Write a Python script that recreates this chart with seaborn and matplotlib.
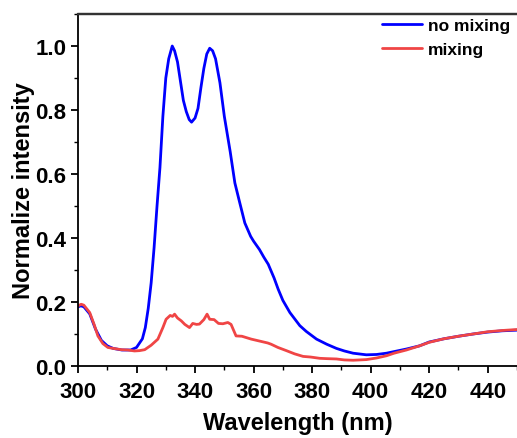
import matplotlib
matplotlib.use("Agg")
import matplotlib.pyplot as plt
import seaborn as sns
import pandas as pd
from matplotlib.ticker import MultipleLocator, FormatStrFormatter

wl_blue = [300, 301, 302, 304, 306, 308, 310, 312, 315, 318, 320, 322, 323, 324, 325, 326, 327, 328,
           329, 330, 331, 332.2, 333, 334, 335, 336, 337, 338, 338.8, 340, 341, 342, 343, 344, 345,
           346, 347, 348.5, 350, 352, 353.6, 355, 357, 359, 360, 362, 363.5, 365, 367, 368.4, 370,
           372.4, 375.8, 378, 381.5, 385, 388.3, 391, 394, 398.5, 402, 405.4, 408, 412.2, 416.7,
           420, 425, 430, 435, 440, 445, 450]
no_mixing = [0.185, 0.188, 0.185, 0.163, 0.115, 0.08, 0.063, 0.055, 0.05, 0.05, 0.058, 0.085, 0.12,
             0.18, 0.26, 0.37, 0.5, 0.62, 0.78, 0.9, 0.96, 1.0, 0.985, 0.95, 0.89, 0.83, 0.795, 0.77,
             0.762, 0.775, 0.805, 0.87, 0.93, 0.975, 0.993, 0.985, 0.96, 0.885, 0.78, 0.67, 0.572,
             0.52, 0.447, 0.405, 0.39, 0.364, 0.34, 0.318, 0.275, 0.24, 0.205, 0.167, 0.126, 0.108,
             0.084, 0.068, 0.055, 0.047, 0.04, 0.035, 0.036, 0.04, 0.045, 0.053, 0.063, 0.075,
             0.085, 0.093, 0.1, 0.106, 0.11, 0.112]

wl_red = [300, 301.1, 302, 304, 305.5, 306.8, 308.5, 310.2, 312, 314.8, 317, 319.3, 321, 322.8, 325,
          327.3, 329, 330.1, 331.5, 332.3, 333, 334, 335.3, 336.5, 338.1, 339.2, 340.5, 341.5, 343,
          344.1, 345, 346.5, 348, 349.5, 351.2, 352.3, 354, 356, 359.2, 362, 364.8, 366, 368.3,
          371.2, 374, 376.9, 379.5, 382.6, 385, 388.3, 391, 394, 398.5, 402, 405.4, 408, 412.2,
          416.7, 420, 425, 430, 435, 440, 445, 450]
mixing = [0.188, 0.193, 0.19, 0.167, 0.13, 0.094, 0.07, 0.058, 0.055, 0.051, 0.05, 0.047, 0.048,
          0.051, 0.065, 0.084, 0.12, 0.146, 0.158, 0.155, 0.162, 0.15, 0.141, 0.13, 0.12, 0.133,
          0.13, 0.131, 0.145, 0.162, 0.146, 0.145, 0.133, 0.132, 0.136, 0.13, 0.094, 0.093, 0.084,
          0.078, 0.072, 0.068, 0.058, 0.048, 0.038, 0.030, 0.028, 0.024, 0.023, 0.022, 0.019,
          0.018, 0.02, 0.025, 0.032, 0.04, 0.05, 0.063, 0.074, 0.085, 0.093, 0.1, 0.107, 0.111,
          0.114]

sns.set_style("ticks")
plt.rcParams['font.family'] = ['Liberation Sans', 'DejaVu Sans']
plt.rcParams['font.weight'] = 'bold'
for k in ['text.color', 'axes.labelcolor', 'xtick.color', 'ytick.color', 'axes.edgecolor']:
    plt.rcParams[k] = 'black'

fig = plt.figure(figsize=(5.17, 4.39), dpi=100)
ax = fig.add_axes([78/517, 72/439, 1 - 78/517, (367-15)/439])

df_b = pd.DataFrame({"x": wl_blue, "y": no_mixing})
df_r = pd.DataFrame({"x": wl_red, "y": mixing})
sns.lineplot(data=df_b, x="x", y="y", ax=ax, color="#0000ff", lw=2, label="no mixing")
sns.lineplot(data=df_r, x="x", y="y", ax=ax, color="#f04545", lw=2, label="mixing")

ax.set_xlim(300, 450)
ax.set_ylim(0, 1.1)
ax.xaxis.set_major_locator(MultipleLocator(20))
ax.xaxis.set_minor_locator(MultipleLocator(10))
ax.yaxis.set_major_locator(MultipleLocator(0.2))
ax.yaxis.set_minor_locator(MultipleLocator(0.1))
ax.tick_params(which='major', direction='out', length=5, width=1.3, labelsize=16)
ax.tick_params(axis='x', which='major', pad=6)
ax.tick_params(which='minor', direction='out', length=3, width=1.0)
for lab in ax.get_xticklabels() + ax.get_yticklabels():
    lab.set_fontweight('bold')
ax.yaxis.set_major_formatter(FormatStrFormatter('%.1f'))

ax.set_xlabel("Wavelength (nm)", fontsize=17, fontweight='bold', labelpad=6)
ax.set_ylabel("Normalize intensity", fontsize=17, fontweight='bold', labelpad=0)

for s in ['left', 'bottom']:
    ax.spines[s].set_linewidth(1.3)
    ax.spines[s].set_color('black')
ax.spines['top'].set_visible(True)
ax.spines['top'].set_linewidth(1.6)
ax.spines['top'].set_color('#333333')
ax.spines['right'].set_visible(False)
# frame line along the top edge of the axes
ax.plot([0, 1], [1, 1], transform=ax.transAxes, color='#333333', lw=1.6,
        clip_on=False, zorder=10)

leg = ax.legend(handles=ax.get_lines()[:2], labels=["no mixing", "mixing"],
                loc='upper right', bbox_to_anchor=(1.0, 1.008), frameon=False,
                handlelength=2.3, handletextpad=0.35, labelspacing=0.5,
                borderaxespad=0.0, prop={'weight': 'bold', 'size': 12.5})

fig.savefig("out.png", dpi=100)
